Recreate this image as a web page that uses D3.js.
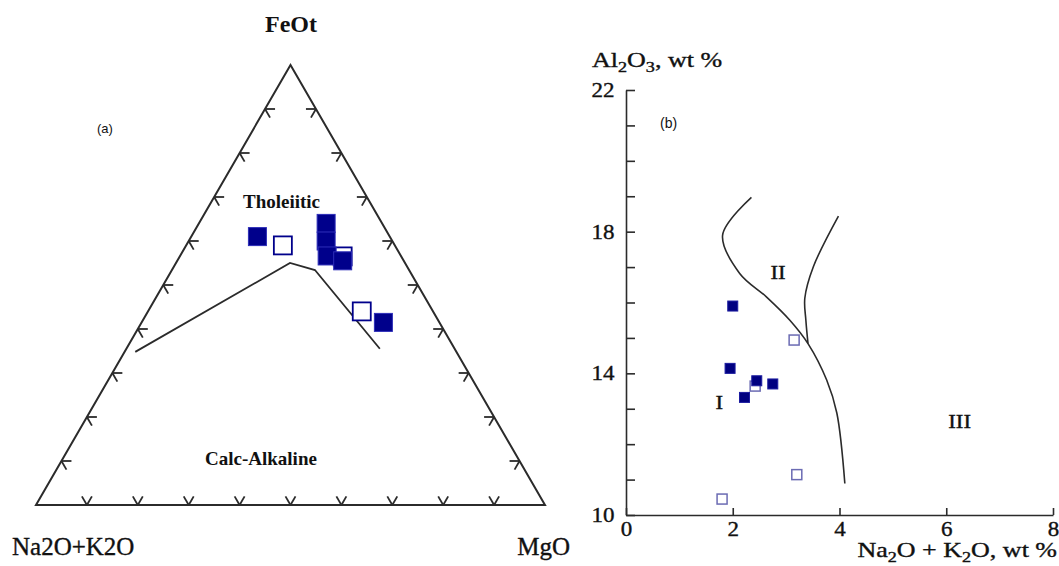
<!DOCTYPE html>
<html>
<head>
<meta charset="utf-8">
<script src="https://cdn.jsdelivr.net/npm/d3@7"></script>
<style>
  body { margin: 0; background: #fff; }
  svg { display: block; }
  .serif { font-family: "Liberation Serif", "DejaVu Serif", serif; fill: #111; }
  .sans { font-family: "Liberation Sans", Arial, sans-serif; fill: #111; }
  .pesado { stroke: #111; stroke-width: 0.35px; }
</style>
</head>
<body>
<svg id="chart" width="1059" height="566"></svg>
<script>
/* diagrama ternario AFM: valores em fracao (FeOt, Na2O+K2O, MgO) */
var afm_cheios = [
  {f: 0.61, a: 0.26, m: 0.13},
  {f: 0.64, a: 0.11, m: 0.25},
  {f: 0.60, a: 0.13, m: 0.27},
  {f: 0.566, a: 0.145, m: 0.289},
  {f: 0.555, a: 0.12, m: 0.325},
  {f: 0.415, a: 0.11, m: 0.475}
];
var afm_vazios = [
  {f: 0.59, a: 0.22, m: 0.19},
  {f: 0.565, a: 0.115, m: 0.32},
  {f: 0.44, a: 0.14, m: 0.42}
];
/* linha toleitico / calcio-alcalino */
var afm_limite = [
  {f: 0.348, a: 0.631, m: 0.021},
  {f: 0.55, a: 0.226, m: 0.224},
  {f: 0.534, a: 0.185, m: 0.281},
  {f: 0.355, a: 0.147, m: 0.498}
];
var afm_divisoes = d3.range(1, 10).map(function(k){ return k / 10; });

/* diagrama Al2O3 x Na2O+K2O */
var alc_cheios = [[2.0, 15.9], [1.95, 14.14], [2.45, 13.79], [2.75, 13.7], [2.22, 13.32]];
var alc_vazios = [[3.15, 14.94], [2.42, 13.64], [3.2, 11.14], [1.8, 10.45]];
var curva_1 = [[2.35, 18.97], [1.81, 17.9], [2.13, 16.82], [2.63, 16.16], [3.07, 15.5],
               [3.41, 14.84], [3.76, 13.81], [3.95, 12.88], [4.1, 10.89]];
var curva_2 = [[3.98, 18.44], [3.51, 17.01], [3.35, 16.12], [3.37, 15.5], [3.41, 14.84]];
var ticks_x = [0, 2, 4, 6, 8];
var ticks_y = d3.range(10, 23);
var rotulos_campos = [{t: "I", x: 1.75, y: 13.0}, {t: "II", x: 2.85, y: 16.65}, {t: "III", x: 6.25, y: 12.45}];

var svg = d3.select("#chart");
var corLinha = "#2b2b2b";
var azul = "#00008b";
var fonteSerif = "\"Liberation Serif\", \"DejaVu Serif\", serif";

/* ---------- (a) ternario ---------- */
var tx = d3.scaleLinear().domain([0, 1]).range([36, 545]);
var ty = d3.scaleLinear().domain([0, 1]).range([505, 65]);
function px(d){ return tx(d.m + d.f / 2); }
function py(d){ return ty(d.f); }

var g1 = svg.append("g");
var cantos = [{f: 0, a: 1, m: 0}, {f: 0, a: 0, m: 1}, {f: 1, a: 0, m: 0}];
g1.append("path")
  .attr("d", "M" + cantos.map(function(d){ return px(d) + "," + py(d); }).join("L") + "Z")
  .attr("fill", "none").attr("stroke", corLinha).attr("stroke-width", 2);

/* marcas nos lados: dois tracos paralelos aos outros lados */
var L = 10, c60 = Math.cos(Math.PI / 3) * L, s60 = Math.sin(Math.PI / 3) * L;
var marcas = [];
afm_divisoes.forEach(function(k){
  var b = {f: 0, a: 1 - k, m: k};
  marcas.push([px(b), py(b), -c60, -s60], [px(b), py(b), c60, -s60]);
  var e = {f: k, a: 1 - k, m: 0};
  marcas.push([px(e), py(e), L, 0], [px(e), py(e), c60, s60]);
  var d = {f: k, a: 0, m: 1 - k};
  marcas.push([px(d), py(d), -L, 0], [px(d), py(d), -c60, s60]);
});
g1.selectAll("line.marca").data(marcas).enter().append("line")
  .attr("class", "marca")
  .attr("x1", function(d){ return d[0]; }).attr("y1", function(d){ return d[1]; })
  .attr("x2", function(d){ return d[0] + d[2]; }).attr("y2", function(d){ return d[1] + d[3]; })
  .attr("stroke", corLinha).attr("stroke-width", 1.8);

g1.append("path").datum(afm_limite)
  .attr("d", d3.line().x(px).y(py))
  .attr("fill", "none").attr("stroke", corLinha).attr("stroke-width", 1.8);

var q = 18;
g1.selectAll("rect.vazio").data(afm_vazios).enter().append("rect")
  .attr("x", function(d){ return px(d) - q / 2; }).attr("y", function(d){ return py(d) - q / 2; })
  .attr("width", q).attr("height", q)
  .attr("fill", "#fff").attr("stroke", azul).attr("stroke-width", 1.8);
g1.selectAll("rect.cheio").data(afm_cheios).enter().append("rect")
  .attr("x", function(d){ return px(d) - q / 2; }).attr("y", function(d){ return py(d) - q / 2; })
  .attr("width", q).attr("height", q)
  .attr("fill", azul).attr("stroke", "#2d2db8").attr("stroke-width", 1);

g1.append("text").attr("class", "serif").attr("x", 291).attr("y", 32)
  .attr("text-anchor", "middle").attr("font-size", 24).attr("font-weight", "bold").text("FeOt");
g1.append("text").attr("class", "serif pesado").attr("x", 12).attr("y", 555)
  .attr("font-size", 25).text("Na2O+K2O");
g1.append("text").attr("class", "serif pesado").attr("x", 570).attr("y", 555)
  .attr("text-anchor", "end").attr("font-size", 25).text("MgO");
g1.append("text").attr("class", "serif").attr("x", 243).attr("y", 208)
  .attr("font-size", 19).attr("font-weight", "bold").text("Tholeiitic");
g1.append("text").attr("class", "serif").attr("x", 205).attr("y", 465)
  .attr("font-size", 19).attr("font-weight", "bold").text("Calc-Alkaline");
g1.append("text").attr("class", "sans").attr("x", 97).attr("y", 133)
  .attr("font-size", 13).text("(a)");

/* ---------- (b) Al2O3 x alcalis ---------- */
var x = d3.scaleLinear().domain([0, 8]).range([626, 1053]);
var y = d3.scaleLinear().domain([10, 22]).range([515, 90]);
var g2 = svg.append("g");

var eixoY = g2.append("g").attr("transform", "translate(" + x(0) + ",0)")
  .call(d3.axisLeft(y).tickValues(ticks_y).tickSize(-9).tickSizeOuter(0).tickPadding(10)
    .tickFormat(function(d){ return d % 4 === 2 ? d : ""; }));
var eixoX = g2.append("g").attr("transform", "translate(0," + y(10) + ")")
  .call(d3.axisBottom(x).tickValues(ticks_x).tickSize(-7).tickSizeOuter(0).tickPadding(7));
[eixoY, eixoX].forEach(function(e){
  e.attr("font-family", null).attr("font-size", null);
  e.selectAll("path, line").attr("stroke", corLinha).attr("stroke-width", 1.6);
  e.selectAll("text").attr("class", "pesado")
    .style("font-family", fonteSerif).style("font-size", "20px").style("fill", "#111")
    .attr("transform", "scale(1.15,1)");
});

var linha = d3.line().x(function(d){ return x(d[0]); }).y(function(d){ return y(d[1]); })
  .curve(d3.curveCatmullRom.alpha(0.5));
[curva_1, curva_2].forEach(function(c){
  g2.append("path").datum(c).attr("d", linha)
    .attr("fill", "none").attr("stroke", corLinha).attr("stroke-width", 1.6);
});

var q2 = 10;
g2.selectAll("rect.vazio").data(alc_vazios).enter().append("rect")
  .attr("x", function(d){ return x(d[0]) - q2 / 2; }).attr("y", function(d){ return y(d[1]) - q2 / 2; })
  .attr("width", q2).attr("height", q2)
  .attr("fill", "#fff").attr("stroke", "#6b6bb3").attr("stroke-width", 1.5);
g2.selectAll("rect.cheio").data(alc_cheios).enter().append("rect")
  .attr("x", function(d){ return x(d[0]) - q2 / 2; }).attr("y", function(d){ return y(d[1]) - q2 / 2; })
  .attr("width", q2).attr("height", q2)
  .attr("fill", "#000080").attr("stroke", "#1c1ca0").attr("stroke-width", 1);

g2.selectAll("text.campo").data(rotulos_campos).enter().append("text")
  .attr("class", "serif pesado campo")
  .attr("transform", function(d){ return "translate(" + x(d.x) + "," + y(d.y) + ") scale(1.2,1)"; })
  .attr("text-anchor", "middle").attr("font-size", 19).text(function(d){ return d.t; });

var tituloY = g2.append("text").attr("class", "serif pesado").attr("font-size", 20)
  .attr("transform", "translate(592,67) scale(1.3,1)");
tituloY.append("tspan").text("Al");
tituloY.append("tspan").attr("font-size", 14).attr("dy", 5).text("2");
tituloY.append("tspan").attr("dy", -5).text("O");
tituloY.append("tspan").attr("font-size", 14).attr("dy", 5).text("3");
tituloY.append("tspan").attr("dy", -5).text(", wt %");

var tituloX = g2.append("text").attr("class", "serif pesado").attr("font-size", 20)
  .attr("text-anchor", "end").attr("transform", "translate(1057,557) scale(1.3,1)");
tituloX.append("tspan").text("Na");
tituloX.append("tspan").attr("font-size", 14).attr("dy", 5).text("2");
tituloX.append("tspan").attr("dy", -5).text("O + K");
tituloX.append("tspan").attr("font-size", 14).attr("dy", 5).text("2");
tituloX.append("tspan").attr("dy", -5).text("O, wt %");

g2.append("text").attr("class", "sans").attr("x", 660).attr("y", 128)
  .attr("font-size", 14).text("(b)");
</script>
</body>
</html>
